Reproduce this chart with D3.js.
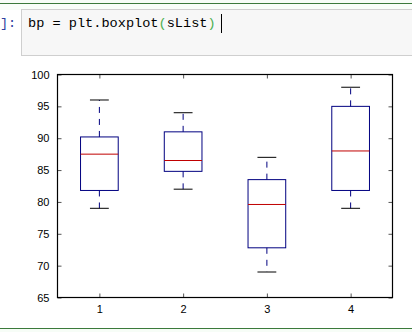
<!DOCTYPE html>
<html>
<head>
<meta charset="utf-8">
<script src="https://cdn.jsdelivr.net/npm/d3@7"></script>
<style>
  html, body { margin: 0; padding: 0; background: #fff; }
  svg { display: block; }
</style>
</head>
<body>
<svg id="chart" width="412" height="332"></svg>
<script>
// Box statistics for each sample in sList
const categories = ["1", "2", "3", "4"];
const whiskerLow  = [79, 82, 69, 79];
const quartile1   = [81.8, 84.8, 72.8, 81.8];
const medians     = [87.5, 86.5, 79.6, 88];
const quartile3   = [90.2, 91, 83.5, 95];
const whiskerHigh = [96, 94, 87, 98];
const yTicks = [65, 70, 75, 80, 85, 90, 95, 100];

const svg = d3.select("#chart");

// Notebook cell frame
svg.append("rect").attr("x", 0).attr("y", 0).attr("width", 412).attr("height", 4).attr("fill", "#f7fdf7");
svg.append("line").attr("x1", 0).attr("x2", 412).attr("y1", 3.5).attr("y2", 3.5)
  .attr("stroke", "#3b7a3b").attr("stroke-width", 1.2);
svg.append("rect").attr("x", 0).attr("y", 4).attr("width", 412).attr("height", 6).attr("fill", "#f9fef9");
svg.append("rect").attr("x", 21.5).attr("y", 9.5).attr("width", 400).attr("height", 46)
  .attr("fill", "#f7f7f7").attr("stroke", "#cfcfcf").attr("stroke-width", 1);
svg.append("text").attr("x", 0).attr("y", 27)
  .attr("font-family", "Liberation Mono, monospace").attr("font-size", 13.5)
  .attr("fill", "#303f9f").text("]:");
const code = svg.append("text").attr("x", 28).attr("y", 27)
  .attr("font-family", "Liberation Mono, monospace").attr("font-size", 13.6).attr("fill", "#000");
code.append("tspan").text("bp = plt.boxplot");
code.append("tspan").attr("fill", "#4caf50").text("(");
code.append("tspan").text("sList");
code.append("tspan").attr("fill", "#4caf50").text(")");
svg.append("line").attr("x1", 221.5).attr("x2", 221.5).attr("y1", 14).attr("y2", 33)
  .attr("stroke", "#000").attr("stroke-width", 1);
svg.append("rect").attr("x", 0).attr("y", 329).attr("width", 412).attr("height", 3).attr("fill", "#f7fdf7");
svg.append("line").attr("x1", 0).attr("x2", 412).attr("y1", 328.5).attr("y2", 328.5)
  .attr("stroke", "#3b7a3b").attr("stroke-width", 1);

// Plot area
const plotLeft = 57.5, plotRight = 392.5, plotTop = 74.5, plotBottom = 297.5;
const x = d3.scaleLinear().domain([0.5, 4.5]).range([plotLeft, plotRight]);
const y = d3.scaleLinear().domain([65, 100]).range([plotBottom, plotTop]);
const boxW = 0.45, capW = 0.225;
const navy = "#000080";

const boxes = svg.append("g").selectAll("g").data(categories).join("g");
boxes.each(function(c, i) {
  const g = d3.select(this);
  const cx = x(i + 1);
  // whiskers (dashed)
  g.append("line").attr("x1", cx).attr("x2", cx).attr("y1", y(quartile3[i])).attr("y2", y(whiskerHigh[i]))
    .attr("stroke", navy).attr("stroke-width", 1).attr("stroke-dasharray", "6,6");
  g.append("line").attr("x1", cx).attr("x2", cx).attr("y1", y(quartile1[i])).attr("y2", y(whiskerLow[i]))
    .attr("stroke", navy).attr("stroke-width", 1).attr("stroke-dasharray", "6,6");
  // caps
  [whiskerHigh[i], whiskerLow[i]].forEach(v => {
    g.append("line").attr("x1", x(i + 1 - capW / 2)).attr("x2", x(i + 1 + capW / 2))
      .attr("y1", y(v)).attr("y2", y(v)).attr("stroke", "#000").attr("stroke-width", 1);
  });
  // box
  g.append("rect").attr("x", x(i + 1 - boxW / 2)).attr("y", y(quartile3[i]))
    .attr("width", x(i + 1 + boxW / 2) - x(i + 1 - boxW / 2))
    .attr("height", y(quartile1[i]) - y(quartile3[i]))
    .attr("fill", "none").attr("stroke", navy).attr("stroke-width", 1);
  // median
  g.append("line").attr("x1", x(i + 1 - boxW / 2)).attr("x2", x(i + 1 + boxW / 2))
    .attr("y1", y(medians[i])).attr("y2", y(medians[i]))
    .attr("stroke", "#c00000").attr("stroke-width", 1);
});

// Axes with inward ticks on all four sides
const font = "Liberation Sans, Arial, sans-serif";
const yAxisL = svg.append("g").attr("transform", `translate(${plotLeft},0)`)
  .call(d3.axisLeft(y).tickValues(yTicks).tickSize(-4).tickPadding(8));
const yAxisR = svg.append("g").attr("transform", `translate(${plotRight},0)`)
  .call(d3.axisRight(y).tickValues(yTicks).tickSize(-4).tickFormat(""));
const xAxisB = svg.append("g").attr("transform", `translate(0,${plotBottom})`)
  .call(d3.axisBottom(x).tickValues([1, 2, 3, 4]).tickSize(-4).tickPadding(8)
    .tickFormat((d, i) => categories[i]));
const xAxisT = svg.append("g").attr("transform", `translate(0,${plotTop})`)
  .call(d3.axisTop(x).tickValues([1, 2, 3, 4]).tickSize(-4).tickFormat(""));
[yAxisL, yAxisR, xAxisB, xAxisT].forEach(a => {
  a.select(".domain").remove();
  a.selectAll(".tick line").attr("stroke", "#555");
  a.selectAll("text").attr("font-family", font).attr("font-size", 11).attr("fill", "#000");
});
svg.append("rect").attr("x", plotLeft).attr("y", plotTop).attr("width", plotRight - plotLeft).attr("height", plotBottom - plotTop)
  .attr("fill", "none").attr("stroke", "#000").attr("stroke-width", 1.2);
</script>
</body>
</html>
